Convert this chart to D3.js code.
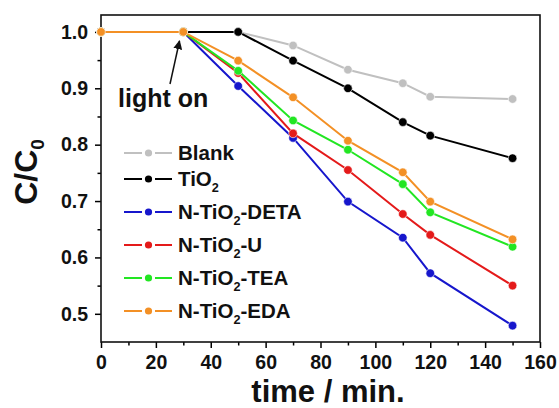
<!DOCTYPE html>
<html>
<head>
<meta charset="utf-8">
<script src="https://cdn.jsdelivr.net/npm/d3@7"></script>
<style>
  body { margin: 0; background: #fff; }
  svg { display: block; font-family: "Liberation Sans", Arial, sans-serif; font-weight: bold; }
</style>
</head>
<body>
<script>
// times (min) and C/C0 values
const times = [0, 30, 50, 70, 90, 110, 120, 150];
const blank = [1.0, 1.0, 1.0, 0.976, 0.933, 0.909, 0.885, 0.881];
const tio2 = [1.0, 1.0, 1.0, 0.949, 0.900, 0.840, 0.816, 0.776];
const deta = [1.0, 1.0, 0.904, 0.812, 0.699, 0.635, 0.572, 0.479];
const urea = [1.0, 1.0, 0.927, 0.820, 0.755, 0.677, 0.640, 0.550];
const tea = [1.0, 1.0, 0.931, 0.843, 0.791, 0.730, 0.680, 0.619];
const eda = [1.0, 1.0, 0.949, 0.884, 0.807, 0.751, 0.699, 0.632];

const seriesNames = ["Blank", "TiO2", "N-TiO2-DETA", "N-TiO2-U", "N-TiO2-TEA", "N-TiO2-EDA"];
const seriesValues = [blank, tio2, deta, urea, tea, eda];
const seriesColors = ["#c0c0c0", "#000000", "#1616cc", "#e41a1a", "#22e622", "#f39025"];

const xTicks = [0, 20, 40, 60, 80, 100, 120, 140, 160];
const yTicks = [0.5, 0.6, 0.7, 0.8, 0.9, 1.0];

const width = 559, height = 408;
const svg = d3.select("body").append("svg")
  .attr("width", width)
  .attr("height", height);

const x = d3.scaleLinear().domain([0, 160]).range([101, 540]);
const y = d3.scaleLinear().domain([0.45, 1.03]).range([342, 15]);

// minor ticks
svg.append("g")
  .attr("transform", `translate(0,${y.range()[0]})`)
  .call(d3.axisBottom(x).tickValues(d3.range(10, 160, 20)).tickSize(3.5).tickFormat(""))
  .call(g => g.select(".domain").remove())
  .call(g => g.selectAll("line").attr("stroke-width", 1.5));
svg.append("g")
  .attr("transform", `translate(${x.range()[0]},0)`)
  .call(d3.axisLeft(y).tickValues(d3.range(0.55, 1.0, 0.1)).tickSize(3.5).tickFormat(""))
  .call(g => g.select(".domain").remove())
  .call(g => g.selectAll("line").attr("stroke-width", 1.5));

// major ticks + labels
svg.append("g")
  .attr("transform", `translate(0,${y.range()[0]})`)
  .call(d3.axisBottom(x).tickValues(xTicks).tickSize(6).tickPadding(7).tickFormat(d3.format("d")))
  .call(g => g.select(".domain").remove())
  .call(g => g.selectAll("line").attr("stroke-width", 1.5))
  .call(g => g.selectAll("text").attr("font-size", 19.5).attr("font-family", null).attr("fill", "#111"));
svg.append("g")
  .attr("transform", `translate(${x.range()[0]},0)`)
  .call(d3.axisLeft(y).tickValues(yTicks).tickSize(6).tickPadding(7).tickFormat(d3.format(".1f")))
  .call(g => g.select(".domain").remove())
  .call(g => g.selectAll("line").attr("stroke-width", 1.5))
  .call(g => g.selectAll("text").attr("font-size", 19.5).attr("font-family", null).attr("fill", "#111"));

// frame
svg.append("rect")
  .attr("x", x.range()[0]).attr("y", y.range()[1])
  .attr("width", x.range()[1] - x.range()[0])
  .attr("height", y.range()[0] - y.range()[1])
  .attr("fill", "none").attr("stroke", "#111").attr("stroke-width", 1.6);

// series
const line = d3.line().x((d, i) => x(times[i])).y(d => y(d));
seriesValues.forEach((vals, k) => {
  const g = svg.append("g");
  g.append("path")
    .attr("d", line(vals))
    .attr("fill", "none")
    .attr("stroke", seriesColors[k])
    .attr("stroke-width", 2);
  g.selectAll("circle").data(vals).join("circle")
    .attr("cx", (d, i) => x(times[i]))
    .attr("cy", d => y(d))
    .attr("r", 4.3)
    .attr("fill", seriesColors[k])
    .attr("stroke", "#fff")
    .attr("stroke-width", 0.6);
});

// label with subscript after "TiO"
function writeLabel(sel, name, size) {
  const parts = name.split(/(?<=TiO)2/);
  sel.append("tspan").text(parts[0]);
  if (parts.length > 1) {
    sel.append("tspan").attr("font-size", size * 0.62).attr("dy", 6).text("2");
    sel.append("tspan").attr("dy", -6).text(parts[1]);
  }
}

// legend
let ly = 153;
seriesNames.forEach((name, k) => {
  const g = svg.append("g").attr("transform", `translate(0,${ly})`);
  g.append("line").attr("x1", 124).attr("x2", 142).attr("stroke", seriesColors[k]).attr("stroke-width", 2);
  g.append("line").attr("x1", 155).attr("x2", 172).attr("stroke", seriesColors[k]).attr("stroke-width", 2);
  g.append("circle").attr("cx", 148.5).attr("r", 3.6).attr("fill", seriesColors[k]);
  const t = g.append("text").attr("x", 178).attr("y", 7).attr("font-size", 20.5).attr("fill", "#111");
  writeLabel(t, name, 20.5);
  ly += name.includes("2") ? 33 : 26;
});

// annotation
svg.append("defs").append("marker")
  .attr("id", "head").attr("viewBox", "0 0 10 10")
  .attr("refX", 9).attr("refY", 5)
  .attr("markerWidth", 9).attr("markerHeight", 9)
  .attr("markerUnits", "userSpaceOnUse")
  .attr("orient", "auto")
  .append("path").attr("d", "M0,0 L10,5 L0,10 Z").attr("fill", "#111");
svg.append("line")
  .attr("x1", 170).attr("y1", 84)
  .attr("x2", 179.5).attr("y2", 41)
  .attr("stroke", "#111").attr("stroke-width", 1.5)
  .attr("marker-end", "url(#head)");
svg.append("text")
  .attr("x", 118).attr("y", 107)
  .attr("font-size", 25).attr("fill", "#111")
  .text("light on");

// axis titles
svg.append("text")
  .attr("x", 328).attr("y", 402)
  .attr("text-anchor", "middle")
  .attr("font-size", 31).attr("fill", "#111")
  .text("time / min.");
const yt = svg.append("text")
  .attr("transform", "translate(37,172) rotate(-90)")
  .attr("text-anchor", "middle")
  .attr("font-size", 32).attr("fill", "#111");
yt.append("tspan").text("C/C");
yt.append("tspan").attr("font-size", 19).attr("dy", 7).text("0");
</script>
</body>
</html>
